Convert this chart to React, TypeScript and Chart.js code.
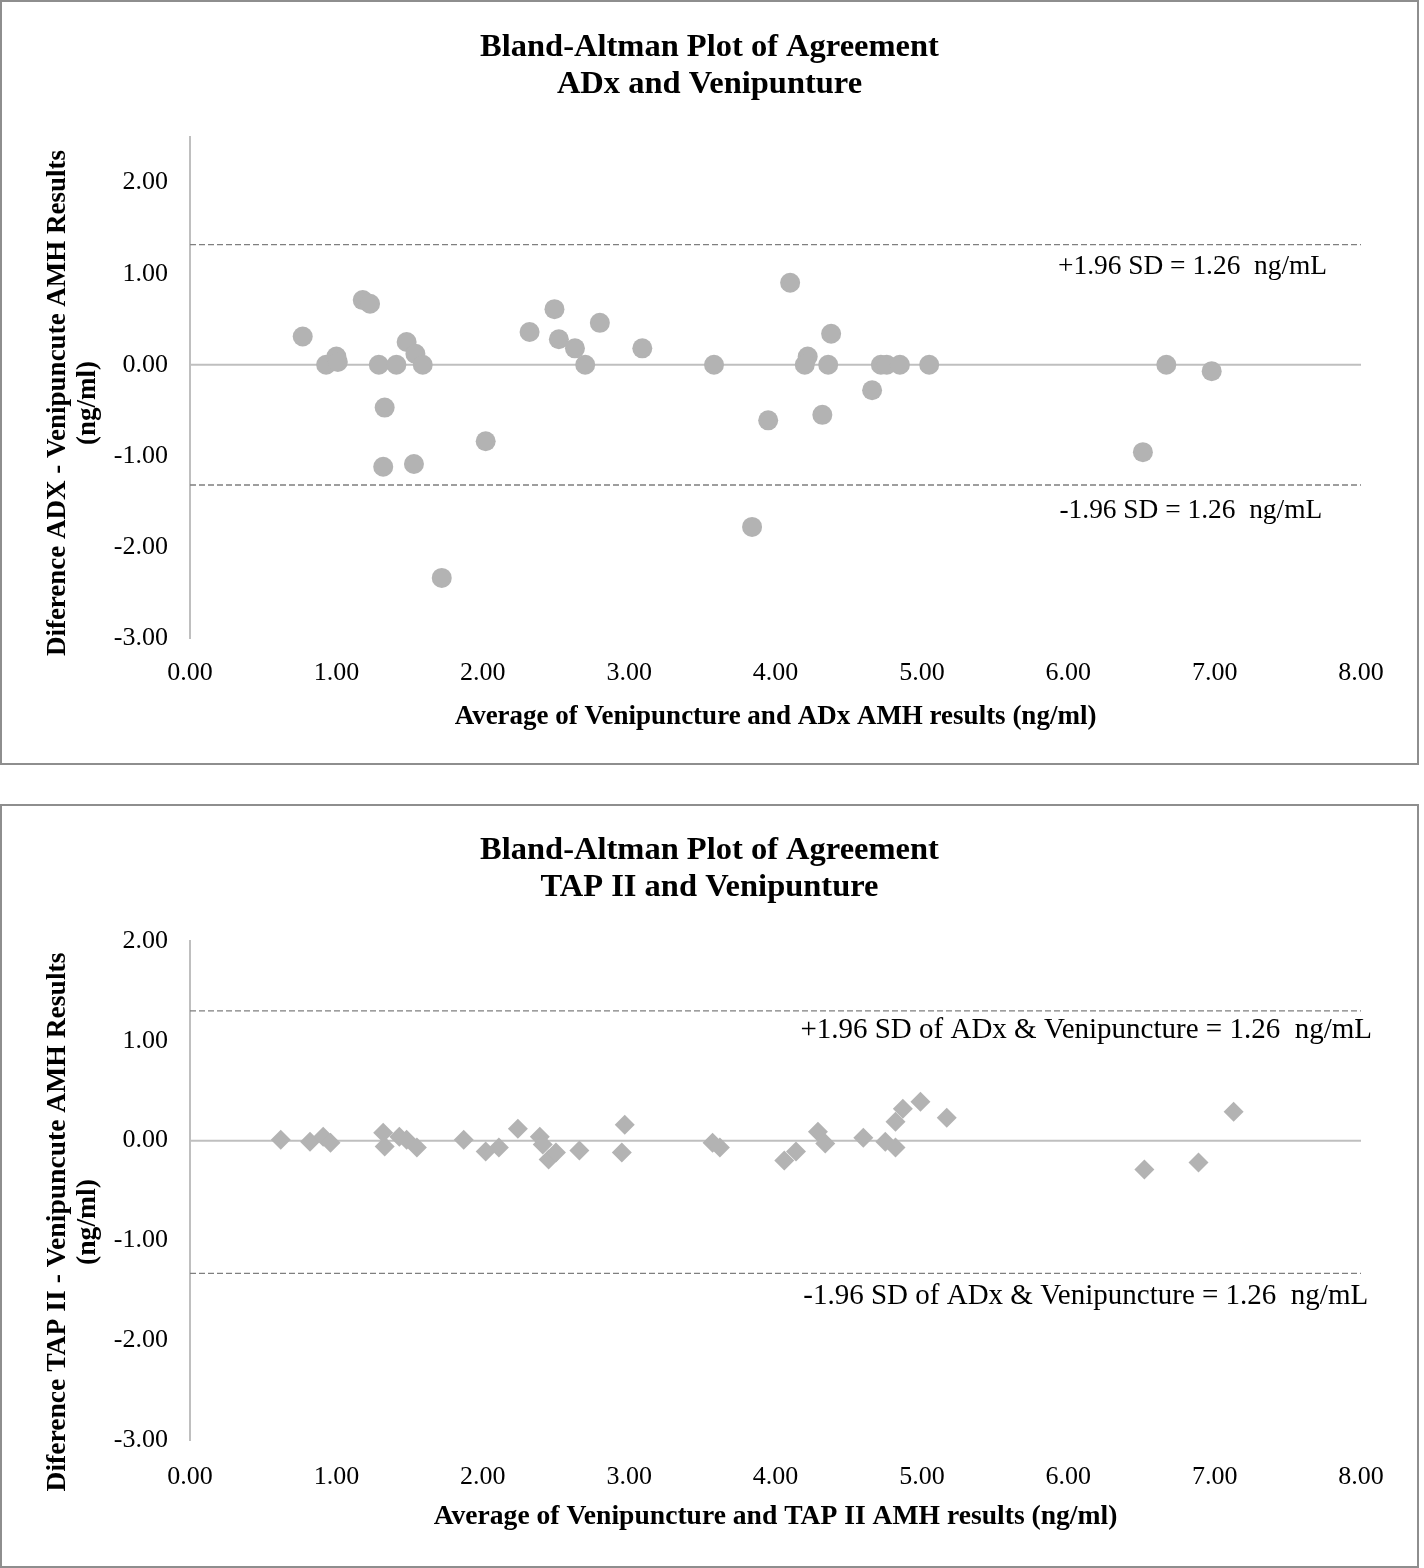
import React, { useEffect, useRef } from 'react';
import { Chart, registerables } from 'chart.js';

Chart.register(...registerables);

// ---------- Data ----------
const adxAverage = [
  0.77, 0.93, 1.0, 1.01, 1.18, 1.23, 1.29, 1.33, 1.32, 1.41, 1.48, 1.54, 1.59, 1.53,
  1.72, 2.02, 2.32, 2.49, 2.52, 2.63, 2.7, 2.8, 3.09, 3.58, 4.1, 4.38, 4.22, 4.2,
  4.36, 3.95, 4.32, 4.66, 4.72, 4.76, 4.85, 5.05, 3.84, 6.67, 6.98, 6.51,
];
const adxDifference = [
  0.31, 0.0, 0.09, 0.03, 0.71, 0.67, 0.0, -0.47, -1.12, 0.0, 0.25, 0.12, 0.0, -1.09,
  -2.34, -0.84, 0.36, 0.61, 0.28, 0.18, 0.0, 0.46, 0.18, 0.0, 0.9, 0.34, 0.09, 0.0,
  0.0, -0.61, -0.55, -0.28, 0.0, 0.0, 0.0, 0.0, -1.78, 0.0, -0.07, -0.96,
];

const tapAverage = [
  0.62, 0.82, 0.91, 0.96, 1.32, 1.33, 1.43, 1.48, 1.55, 1.87, 2.02, 2.11, 2.24, 2.39,
  2.41, 2.45, 2.5, 2.66, 2.97, 2.95, 3.57, 3.62, 4.06, 4.14, 4.29, 4.34, 4.6, 4.75,
  4.82, 4.82, 4.87, 4.99, 5.17, 6.52, 6.89, 7.13,
];
const tapDifference = [
  0.01, -0.01, 0.04, -0.02, 0.08, -0.06, 0.04, 0.01, -0.07, 0.01, -0.11, -0.07, 0.12, 0.04,
  -0.04, -0.19, -0.12, -0.1, 0.16, -0.12, -0.02, -0.07, -0.2, -0.11, 0.09, -0.03, 0.03, -0.01,
  -0.07, 0.19, 0.32, 0.39, 0.23, -0.29, -0.22, 0.29,
];

const xTickValues = [0, 1, 2, 3, 4, 5, 6, 7, 8];
const yTickValues = [-3, -2, -1, 0, 1, 2];

const adxLimits = [1.32, -1.32];
const tapLimits = [1.3, -1.33];

const adxTitle = ['Bland-Altman Plot of Agreement', 'ADx and Venipunture'];
const tapTitle = ['Bland-Altman Plot of Agreement', 'TAP II and Venipunture'];
const adxXTitle = 'Average of Venipuncture and ADx AMH results (ng/ml)';
const tapXTitle = 'Average of Venipuncture and TAP II AMH results (ng/ml)';
const adxYTitle = ['Diference ADX - Venipuncute AMH Results', '(ng/ml)'];
const tapYTitle = ['Diference TAP II - Venipuncute AMH Results', '(ng/ml)'];

const adxAnnotations = [
  { text: '+1.96 SD = 1.26  ng/mL', x: 5.93, y: 1.07 },
  { text: '-1.96 SD = 1.26  ng/mL', x: 5.94, y: -1.6 },
];
const tapAnnotations = [
  { text: '+1.96 SD of ADx & Venipuncture = 1.26  ng/mL', x: 4.17, y: 1.1 },
  { text: '-1.96 SD of ADx & Venipuncture = 1.26  ng/mL', x: 4.19, y: -1.56 },
];

// ---------- Styling ----------
const FONT = '"Liberation Serif", "Times New Roman", serif';
const POINT_COLOR = '#B3B3B3';
const AXIS_COLOR = '#BFBFBF';
const DASH_COLOR = '#7F7F7F';

const extraTextPlugin = {
  id: 'extraText',
  afterDraw(chart: any, _args: any, opts: any) {
    const { ctx } = chart;
    const xs = chart.scales.x;
    const ys = chart.scales.y;
    ctx.save();
    ctx.fillStyle = '#000';
    ctx.font = `${opts.annotationSize}px ${FONT}`;
    ctx.textBaseline = 'middle';
    ctx.textAlign = 'left';
    for (const a of opts.annotations || []) {
      ctx.fillText(a.text, xs.getPixelForValue(a.x), ys.getPixelForValue(a.y));
    }
    ctx.font = `bold ${opts.yTitleSize}px ${FONT}`;
    ctx.textAlign = 'center';
    ctx.translate(opts.yTitleX, opts.yTitleY);
    ctx.rotate(-Math.PI / 2);
    (opts.yTitle || []).forEach((line: string, i: number) => {
      ctx.fillText(line, 0, i * opts.yTitleGap);
    });
    ctx.restore();
  },
};

type PanelProps = {
  top: number;
  height: number;
  avg: number[];
  diff: number[];
  limits: number[];
  yMax: number;
  title: string[];
  xTitle: string;
  yTitle: string[];
  annotations: { text: string; x: number; y: number }[];
  pointStyle: string;
  titlePadTop: number;
  titlePadBottom: number;
  xAxisHeight: number;
  xTickPad: number;
  xTitlePadBottom: number;
  yTitleY: number;
  annotationSize: number;
  axisTitleSize: number;
};

function Panel(p: PanelProps) {
  const ref = useRef<HTMLCanvasElement>(null);
  useEffect(() => {
    const points = p.avg.map((x, i) => ({ x, y: p.diff[i] }));
    const hline = (y: number) => [
      { x: xTickValues[0], y },
      { x: xTickValues[xTickValues.length - 1], y },
    ];
    const chart = new Chart(ref.current as HTMLCanvasElement, {
      type: 'scatter',
      data: {
        datasets: [
          {
            type: 'scatter',
            data: points,
            pointStyle: p.pointStyle as any,
            pointRadius: 10,
            pointBorderWidth: 0,
            backgroundColor: POINT_COLOR,
            borderColor: POINT_COLOR,
          },
          {
            type: 'line',
            data: hline(0),
            borderColor: AXIS_COLOR,
            borderWidth: 2,
            pointRadius: 0,
          },
          {
            type: 'line',
            data: hline(p.limits[0]),
            borderColor: DASH_COLOR,
            borderWidth: 1.3,
            borderDash: [6, 3],
            pointRadius: 0,
          },
          {
            type: 'line',
            data: hline(p.limits[1]),
            borderColor: DASH_COLOR,
            borderWidth: 1.3,
            borderDash: [6, 3],
            pointRadius: 0,
          },
        ] as any,
      },
      options: {
        responsive: false,
        animation: false,
        devicePixelRatio: 1,
        layout: { padding: 0 },
        plugins: {
          legend: { display: false },
          tooltip: { enabled: false },
          title: {
            display: true,
            text: p.title,
            color: '#000',
            font: { family: FONT, size: 32.5, weight: 'bold', lineHeight: 1.15 },
            padding: { top: p.titlePadTop, bottom: p.titlePadBottom },
          },
          extraText: {
            annotations: p.annotations,
            annotationSize: p.annotationSize,
            yTitle: p.yTitle,
            yTitleSize: p.axisTitleSize,
            yTitleX: 58,
            yTitleY: p.yTitleY,
            yTitleGap: 30,
          },
        } as any,
        scales: {
          x: {
            type: 'linear',
            min: xTickValues[0],
            max: xTickValues[xTickValues.length - 1],
            afterBuildTicks: (s: any) => {
              s.ticks = xTickValues.map((v) => ({ value: v }));
            },
            afterFit: (s: any) => {
              s.height = p.xAxisHeight;
            },
            grid: { display: false, drawTicks: false },
            border: { display: false },
            ticks: {
              color: '#000',
              padding: p.xTickPad,
              font: { family: FONT, size: 26 },
              callback: (v: any) => Number(v).toFixed(2),
            },
            title: {
              display: true,
              text: p.xTitle,
              color: '#000',
              font: { family: FONT, size: p.axisTitleSize, weight: 'bold', lineHeight: 1.2 },
              padding: { top: 0, bottom: p.xTitlePadBottom },
            },
          },
          y: {
            type: 'linear',
            min: yTickValues[0],
            max: p.yMax,
            afterBuildTicks: (s: any) => {
              s.ticks = yTickValues.map((v) => ({ value: v }));
            },
            afterFit: (s: any) => {
              s.width = 190;
            },
            grid: { display: false, drawTicks: false },
            border: { display: true, color: AXIS_COLOR, width: 2 },
            ticks: {
              color: '#000',
              padding: 22,
              font: { family: FONT, size: 26 },
              callback: (v: any) => Number(v).toFixed(2),
            },
          },
          yRight: {
            type: 'linear',
            position: 'right',
            display: true,
            afterFit: (s: any) => {
              s.width = 58;
            },
            grid: { display: false, drawTicks: false },
            border: { display: false },
            ticks: { display: false },
          },
        } as any,
      },
      plugins: [extraTextPlugin],
    } as any);
    return () => chart.destroy();
  }, []);
  return (
    <div
      style={{
        position: 'absolute',
        left: 0,
        top: p.top,
        width: 1419,
        height: p.height,
      }}
    >
      <div
        style={{
          position: 'absolute',
          left: 0,
          top: 0,
          width: 1419,
          height: p.height,
          border: '2px solid #8e8e8e',
          boxSizing: 'border-box',
          background: '#fff',
        }}
      />
      <canvas
        ref={ref}
        width={1419}
        height={p.height}
        style={{ position: 'absolute', left: 0, top: 0, width: 1419, height: p.height }}
      />
    </div>
  );
}

export default function App() {
  return (
    <div style={{ position: 'absolute', left: 0, top: 0, width: 1424, height: 1568, background: '#fff' }}>
      <Panel
        top={0}
        height={765}
        avg={adxAverage}
        diff={adxDifference}
        limits={adxLimits}
        yMax={2.5}
        title={adxTitle}
        xTitle={adxXTitle}
        yTitle={adxYTitle}
        annotations={adxAnnotations}
        pointStyle="circle"
        titlePadTop={29}
        titlePadBottom={33.3}
        xAxisHeight={127}
        xTickPad={20}
        xTitlePadBottom={32}
        yTitleY={403}
        annotationSize={27.4}
        axisTitleSize={27}
      />
      <Panel
        top={804}
        height={764}
        avg={tapAverage}
        diff={tapDifference}
        limits={tapLimits}
        yMax={2}
        title={tapTitle}
        xTitle={tapXTitle}
        yTitle={tapYTitle}
        annotations={tapAnnotations}
        pointStyle="rectRot"
        titlePadTop={28}
        titlePadBottom={34.3}
        xAxisHeight={128}
        xTickPad={22}
        xTitlePadBottom={35}
        yTitleY={418}
        annotationSize={29}
        axisTitleSize={27.6}
      />
    </div>
  );
}
